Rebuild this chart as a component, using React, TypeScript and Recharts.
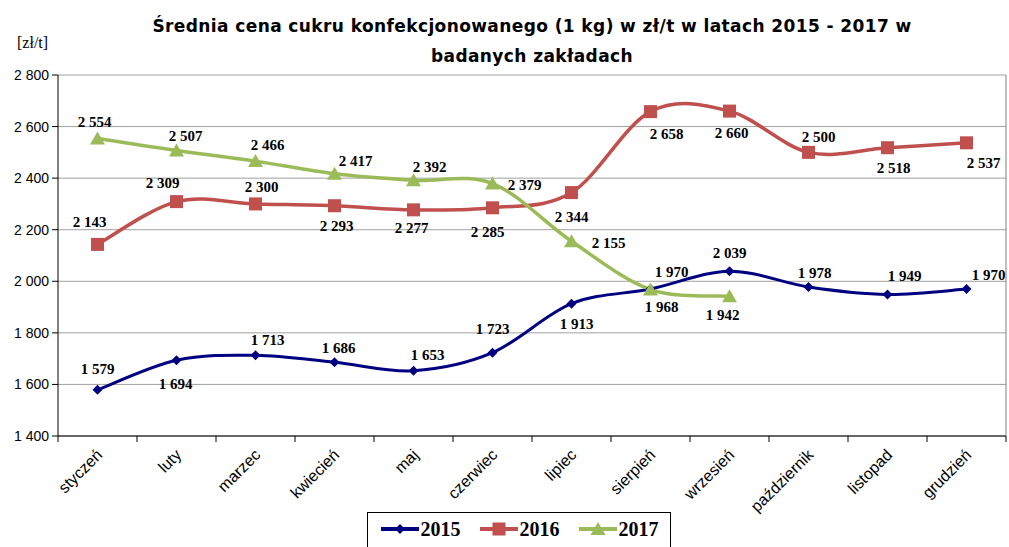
import React from 'react';
import { LineChart, Line, XAxis, YAxis, CartesianGrid, LabelList } from 'recharts';

const months = ['styczeń', 'luty', 'marzec', 'kwiecień', 'maj', 'czerwiec', 'lipiec', 'sierpień', 'wrzesień', 'październik', 'listopad', 'grudzień'];
const values2015 = [1579, 1694, 1713, 1686, 1653, 1723, 1913, 1970, 2039, 1978, 1949, 1970];
const values2016 = [2143, 2309, 2300, 2293, 2277, 2285, 2344, 2658, 2660, 2500, 2518, 2537];
const values2017: (number | null)[] = [2554, 2507, 2466, 2417, 2392, 2379, 2155, 1968, 1942, null, null, null];
const yTicks = [1400, 1600, 1800, 2000, 2200, 2400, 2600, 2800];

// label offsets relative to the point (styling only)
const off2015: [number, number][] = [[0, -21], [-1, 24], [12, -15], [4, -14], [14, -16], [0, -24], [5, 20], [21, -17], [0, -18], [6, -14], [17, -18], [22, -14]];
const off2016: [number, number][] = [[-8, -22], [-14, -19], [6, -17], [2, 20], [-2, 18], [-5, 24], [0, 24], [16, 22], [2, 22], [10, -15], [6, 20], [17, 20]];
const off2017: [number, number][] = [[-3, -16], [9, -15], [12, -16], [21, -13], [16, -13], [32, 1], [37, 2], [11, 17], [-7, 19]];

const C2015 = '#000080';
const C2016 = '#C0504D';
const C2017 = '#9BBB59';

const data = months.map((m, i) => ({ month: m, a: values2015[i], b: values2016[i], c: values2017[i] }));

const fmt = (v: number) => {
  const s = String(Math.round(v));
  return s.length > 3 ? s.slice(0, s.length - 3) + ' ' + s.slice(-3) : s;
};

function excelCurve(context: any) {
  let pts: [number, number][] = [];
  return {
    areaStart() {},
    areaEnd() {},
    lineStart() { pts = []; },
    point(x: number, y: number) { pts.push([+x, +y]); },
    lineEnd() {
      if (!pts.length) return;
      context.moveTo(pts[0][0], pts[0][1]);
      const t = 1 / 6;
      for (let i = 0; i < pts.length - 1; i++) {
        const p0 = pts[i - 1] || pts[i];
        const p1 = pts[i];
        const p2 = pts[i + 1];
        const p3 = pts[i + 2] || p2;
        context.bezierCurveTo(
          p1[0] + (p2[0] - p0[0]) * t, p1[1] + (p2[1] - p0[1]) * t,
          p2[0] - (p3[0] - p1[0]) * t, p2[1] - (p3[1] - p1[1]) * t,
          p2[0], p2[1]
        );
      }
    },
  };
}

const Diamond = (cx: number, cy: number, color: string, key?: any) => (
  <path key={key} d={`M${cx},${cy - 5}L${cx + 5},${cy}L${cx},${cy + 5}L${cx - 5},${cy}Z`} fill={color} />
);
const Square = (cx: number, cy: number, color: string, key?: any) => (
  <rect key={key} x={cx - 6.5} y={cy - 6.5} width={13} height={13} fill={color} />
);
const Triangle = (cx: number, cy: number, color: string, key?: any) => (
  <path key={key} d={`M${cx},${cy - 7}L${cx + 7.5},${cy + 6}L${cx - 7.5},${cy + 6}Z`} fill={color} />
);

const makeDot = (fn: typeof Diamond, color: string) => (p: any) => {
  if (p.cx == null || p.cy == null || p.value == null) return <g key={p.key ?? p.index} />;
  return fn(p.cx, p.cy, color, p.key ?? p.index);
};

const makeLabel = (offs: [number, number][]) => (p: any) => {
  if (p.value == null) return null;
  const o = offs[p.index] || [0, -16];
  return (
    <text key={p.index} x={p.x + o[0]} y={p.y + o[1]} textAnchor="middle" dominantBaseline="central"
      fontFamily="'Liberation Serif', 'Times New Roman', serif" fontWeight="bold" fontSize={15} fill="#000">
      {fmt(p.value)}
    </text>
  );
};

const XTick = (p: any) => {
  const { x, y, payload, index, visibleTicksCount } = p;
  const half = payload && payload.offset ? payload.offset : 39.5;
  return (
    <g>
      <line x1={x - half} x2={x - half} y1={y - 8} y2={y - 2} stroke="#000" />
      {index === visibleTicksCount - 1 && <line x1={x + half} x2={x + half} y1={y - 8} y2={y - 2} stroke="#000" />}
      <text transform={`translate(${x + 2},${y + 8}) rotate(-45)`} textAnchor="end" dominantBaseline="central"
        fontFamily="'Liberation Sans', Arial, sans-serif" fontSize={16} fill="#000">
        {payload.value}
      </text>
    </g>
  );
};

const LegendItem = ({ color, label, shape }: { color: string; label: string; shape: typeof Diamond }) => (
  <div style={{ display: 'flex', alignItems: 'center', marginRight: 18 }}>
    <svg width={40} height={16}>
      <line x1={1} x2={39} y1={8} y2={8} stroke={color} strokeWidth={4} />
      {shape(20, 8, color)}
    </svg>
    <span style={{ fontFamily: "'Liberation Serif', 'Times New Roman', serif", fontWeight: 'bold', fontSize: 20, color: '#000', marginLeft: 1 }}>{label}</span>
  </div>
);

export default function App() {
  return (
    <div style={{ position: 'absolute', left: 0, top: 0, width: 1009, height: 547, overflow: 'hidden', background: '#fff' }}>
      <div style={{ position: 'absolute', left: 0, top: 11, width: 1064, textAlign: 'center', fontFamily: "'DejaVu Sans', sans-serif", fontWeight: 'bold', fontSize: 17, letterSpacing: 0.4, lineHeight: '30px', color: '#000' }}>
        Średnia cena cukru konfekcjonowanego (1 kg) w zł/t w latach 2015 - 2017 w<br />badanych zakładach
      </div>
      <div style={{ position: 'absolute', left: 17, top: 34, fontFamily: "'Liberation Serif', 'Times New Roman', serif", fontSize: 16, color: '#000' }}>[zł/t]</div>
      <LineChart width={1009} height={547} data={data} margin={{ top: 75, right: 0, bottom: 0, left: 0 }}>
        <CartesianGrid vertical={false} stroke="#a0a0a0" strokeWidth={1} />
        <XAxis dataKey="month" scale="band" height={111} interval={0} tickLine={false} axisLine={{ stroke: '#000' }} tick={<XTick />} />
        <YAxis width={58} domain={[1400, 2800]} ticks={yTicks} interval={0} tickFormatter={fmt}
          axisLine={{ stroke: '#000' }} tickLine={{ stroke: '#000' }} tickSize={6} tickMargin={3}
          tick={{ fill: '#000', fontSize: 14, fontFamily: "'Liberation Sans', Arial, sans-serif" }} />
        <YAxis yAxisId="r" orientation="right" width={3} domain={[1400, 2800]} tick={false} tickLine={false} axisLine={{ stroke: '#808080' }} />
        <Line dataKey="a" type={excelCurve as any} stroke={C2015} strokeWidth={3} dot={makeDot(Diamond, C2015)} activeDot={false} isAnimationActive={false}>
          <LabelList dataKey="a" content={makeLabel(off2015)} />
        </Line>
        <Line dataKey="b" type={excelCurve as any} stroke={C2016} strokeWidth={3.5} dot={makeDot(Square, C2016)} activeDot={false} isAnimationActive={false}>
          <LabelList dataKey="b" content={makeLabel(off2016)} />
        </Line>
        <Line dataKey="c" type={excelCurve as any} stroke={C2017} strokeWidth={3.5} dot={makeDot(Triangle, C2017)} activeDot={false} isAnimationActive={false}>
          <LabelList dataKey="c" content={makeLabel(off2017)} />
        </Line>
      </LineChart>
      <div style={{ position: 'absolute', left: 367, top: 512, width: 304, height: 40, border: '1px solid #000', display: 'flex', alignItems: 'center', justifyContent: 'center', paddingTop: 0, boxSizing: 'border-box', paddingBottom: 6 }}>
        <LegendItem color={C2015} label="2015" shape={Diamond} />
        <LegendItem color={C2016} label="2016" shape={Square} />
        <div style={{ marginRight: -18, display: 'flex' }}><LegendItem color={C2017} label="2017" shape={Triangle} /></div>
      </div>
    </div>
  );
}
